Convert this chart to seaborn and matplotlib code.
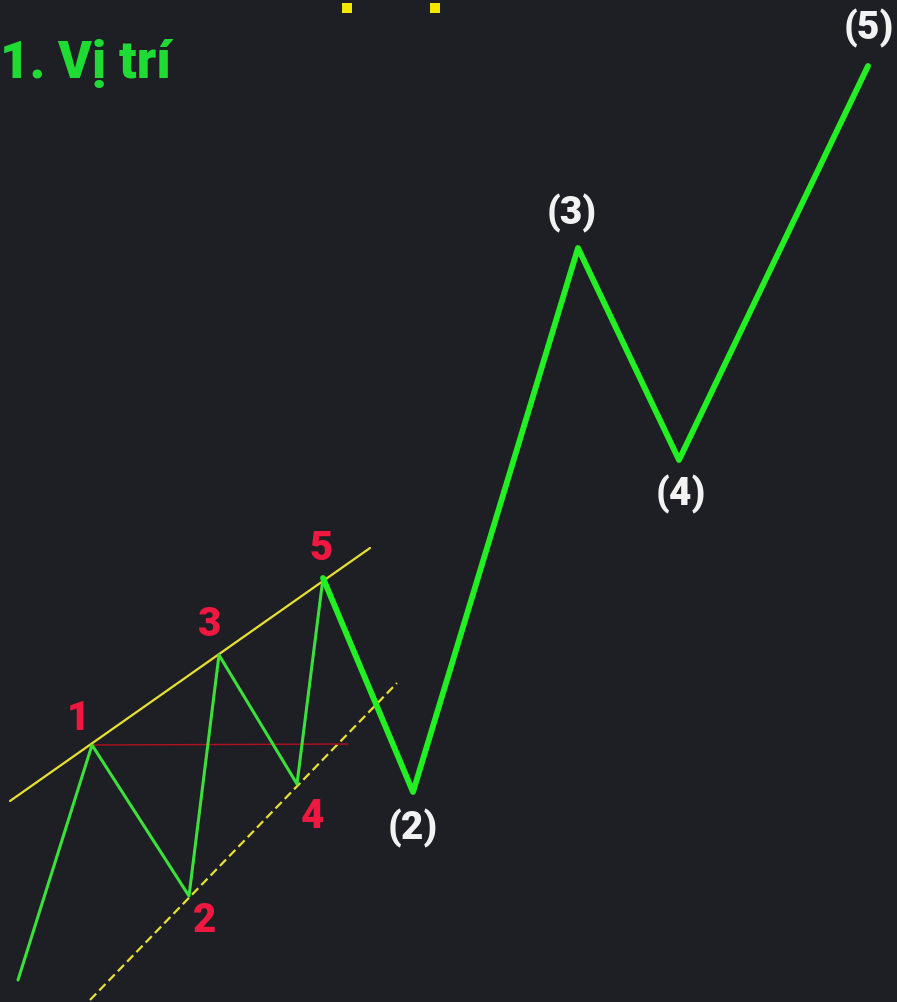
import numpy as np
import pandas as pd
import matplotlib.pyplot as plt
import seaborn as sns

# Sóng nhỏ (mũi nhọn tam giác) - toạ độ theo pixel của hình gốc
small_x = [18, 92, 189, 219, 297, 323]
small_y = [980, 745, 896, 655, 784, 578]
small_labels = ['', '1', '2', '3', '4', '5']

# Sóng lớn
big_x = [323, 413, 578, 679, 868]
big_y = [578, 792, 248, 460, 66]
big_labels = ['', '(2)', '(3)', '(4)', '(5)']

# Đường kênh
upper_x = [10, 370]
upper_y = [801, 548]
lower_x = [90, 397]
lower_y = [1000, 683]
red_x = [92, 348]
red_y = [745, 744]

# vị trí nhãn
small_lab_x = [0, 78, 205, 210, 312, 321]
small_lab_y = [0, 718, 921, 624, 816, 549]
big_lab_x = [0, 413, 572, 681, 869]
big_lab_y = [0, 828, 213, 494, 28]

# mảnh chữ vàng bị cắt ở đỉnh
frag_x = [347, 435]
frag_y = [8, 8]

bg = '#1e1f24'
sns.set_theme(style='dark', rc={'axes.facecolor': bg, 'figure.facecolor': bg})
plt.rcParams['font.family'] = ['Roboto', 'Liberation Sans', 'DejaVu Sans']

fig = plt.figure(figsize=(8.97, 10.02), dpi=100)
ax = fig.add_axes([0, 0, 1, 1])
ax.set_xlim(0, 897)
ax.set_ylim(1002, 0)
ax.axis('off')

small = pd.DataFrame({'x': small_x, 'y': small_y})
big = pd.DataFrame({'x': big_x, 'y': big_y})

ax.plot(upper_x, upper_y, color='#e8e030', lw=1.6)
ax.plot(lower_x, lower_y, color='#e8e030', lw=1.6, ls=(0, (4, 2)))
ax.plot(red_x, red_y, color='#b01020', lw=1.0)
sns.lineplot(data=small, x='x', y='y', sort=False, color='#3be03b', lw=2.2, ax=ax)
sns.lineplot(data=big, x='x', y='y', sort=False, color='#22f022', lw=4.2, ax=ax)

for lx, ly, t in zip(small_lab_x, small_lab_y, small_labels):
    if t:
        ax.text(lx, ly, t, color='#ee1840', fontsize=29, fontweight=900,
                ha='center', va='center')
for lx, ly, t in zip(big_lab_x, big_lab_y, big_labels):
    if t:
        ax.text(lx, ly, t, color='#f2f2f2', fontsize=28, fontweight=900,
                ha='center', va='center')

ax.scatter(frag_x, frag_y, marker='s', s=60, color='#f5e600', linewidths=0)

ax.text(0, 64, '1. Vị trí', color='#1fdc35', fontsize=37, fontweight=900,
        ha='left', va='center')

fig.savefig('out.png', dpi=100, facecolor=bg)
